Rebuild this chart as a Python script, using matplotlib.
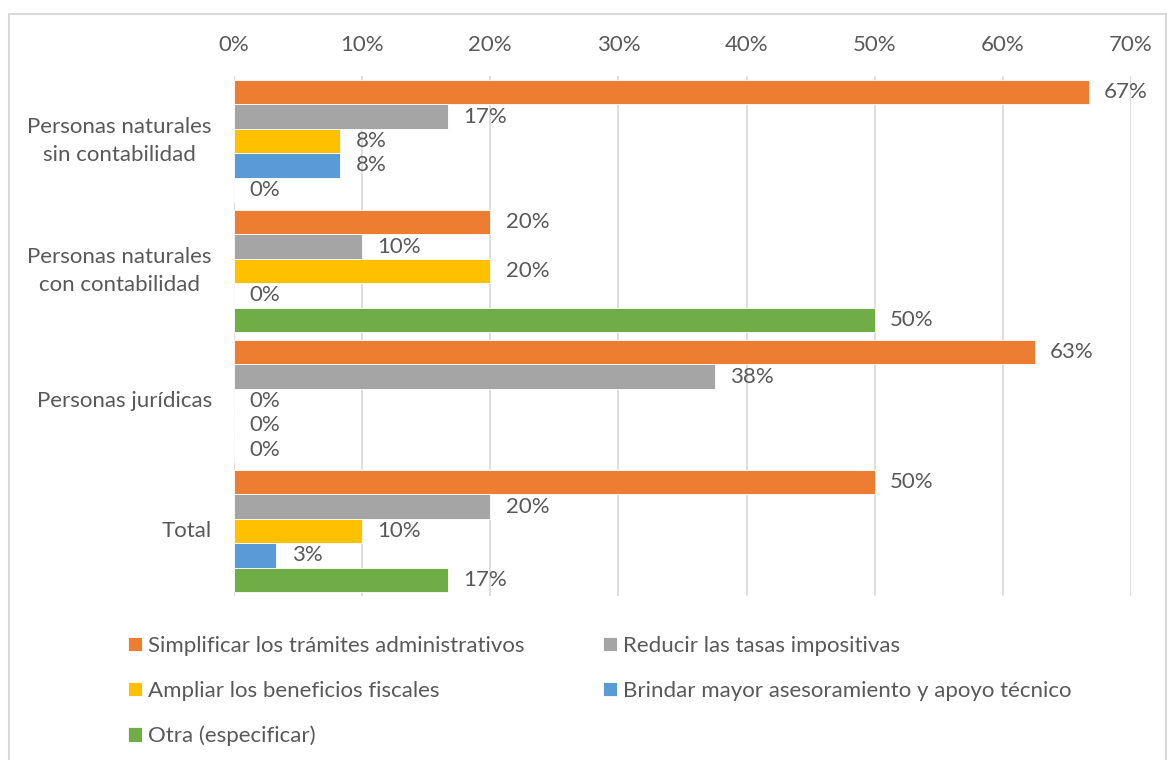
import math
import matplotlib
matplotlib.use("Agg")
import matplotlib.pyplot as plt
from matplotlib.patches import Rectangle

plt.rcParams['font.family'] = ['Lato', 'DejaVu Sans']

categories = ["Personas naturales\nsin contabilidad",
              "Personas naturales\ncon contabilidad",
              "Personas jurídicas",
              "Total"]
series_names = ["Simplificar los trámites administrativos",
                "Reducir las tasas impositivas",
                "Ampliar los beneficios fiscales",
                "Brindar mayor asesoramiento y apoyo técnico",
                "Otra (especificar)"]
simplificar = [66.7, 20.0, 62.5, 50.0]
reducir = [16.7, 10.0, 37.5, 20.0]
ampliar = [8.3, 20.0, 0.0, 10.0]
brindar = [8.3, 0.0, 0.0, 3.3]
otra = [0.0, 50.0, 0.0, 16.7]
colors = ["#ED7D31", "#A5A5A5", "#FFC000", "#5B9BD5", "#70AD47"]

values = [simplificar, reducir, ampliar, brindar, otra]
txt = "#595959"
fs = 16

fig = plt.figure(figsize=(11.67, 7.6), dpi=100)
W, H = 1167, 760
ax = fig.add_axes([234 / W, 1 - 596 / H, (1131 - 234) / W, (596 - 76) / H])

h = 0.188
handles = []
for j, (name, vals, c) in enumerate(zip(series_names, values, colors)):
    ys = [i - 0.47 + (j + 0.5) * h for i in range(len(categories))]
    b = ax.barh(ys, vals, height=h, color=c, edgecolor="white", linewidth=0.6,
                label=name, zorder=3)
    handles.append(b)
    for y, v in zip(ys, vals):
        ax.annotate(f"{math.floor(v + 0.5)}%", (v, y), xytext=(11, 0),
                    textcoords="offset points", va="center", ha="left",
                    fontsize=fs, color=txt, zorder=4)

ax.set_xlim(0, 70)
ax.set_ylim(3.5, -0.5)
ax.set_xticks(range(0, 71, 10))
ax.set_xticklabels([f"{t}%" for t in range(0, 71, 10)])
ax.xaxis.tick_top()
ax.set_yticks(range(len(categories)))
ax.set_yticklabels(categories, multialignment="center", linespacing=1.45,
                   va="center")
ax.tick_params(axis="x", length=0, pad=15, labelsize=fs, labelcolor=txt)
ax.tick_params(axis="y", length=0, pad=16, labelsize=fs, labelcolor=txt)
ax.grid(axis="x", color="#D9D9D9", linewidth=1.2, zorder=0)
for s in ax.spines.values():
    s.set_visible(False)

# border of the chart area
fig.patches.append(Rectangle((9 / W, -0.01), 1157 / W, 1 - 14 / H + 0.01,
                             transform=fig.transFigure, fill=False,
                             edgecolor="#D9D9D9", linewidth=1.5))

leg_kw = dict(loc="upper left", frameon=False, fontsize=fs, labelcolor=txt,
              handlelength=0.63, handleheight=0.63, handletextpad=0.27,
              labelspacing=1.12, borderpad=0, borderaxespad=0)
for cols, x0 in (([0, 2, 4], 128), ([1, 3], 603)):
    fig.legend([handles[k] for k in cols], [series_names[k] for k in cols],
               bbox_to_anchor=(x0 / W, 1 - 636 / H), **leg_kw)

fig.savefig("out.png", dpi=100)
